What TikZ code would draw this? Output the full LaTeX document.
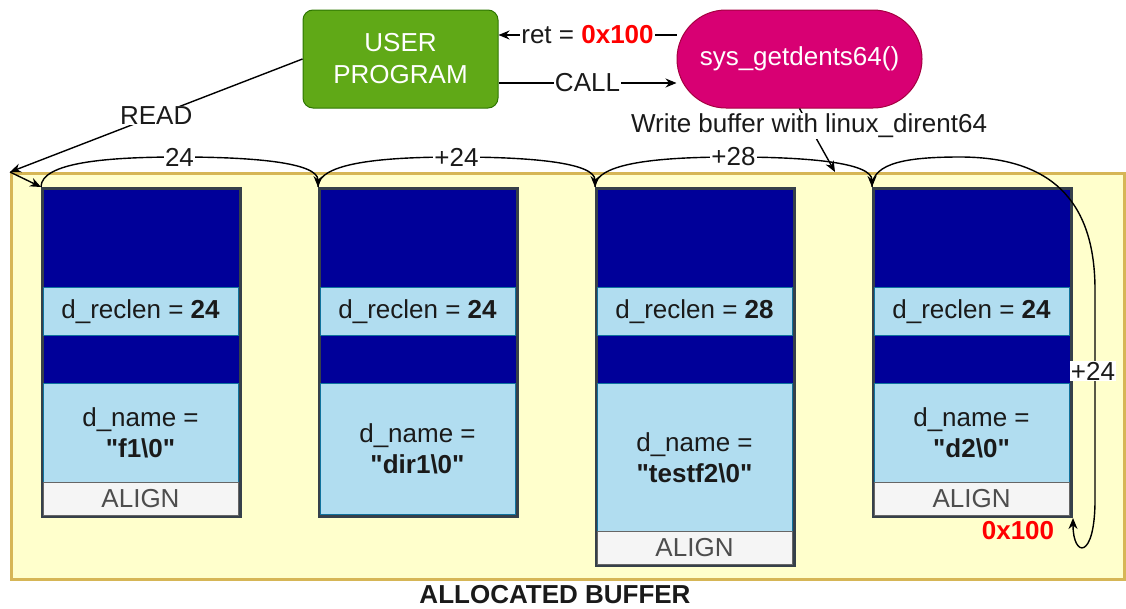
\documentclass[tikz,border=0pt]{standalone}
\usepackage{fontspec}
\setmainfont{Liberation Sans}[Ligatures=TeXOff]
\usetikzlibrary{arrows.meta,calc}
\definecolor{dkblue}{HTML}{000099}
\definecolor{slate}{HTML}{36404A}
\definecolor{lblue}{HTML}{B1DDF0}
\definecolor{lbluestroke}{HTML}{10739E}
\definecolor{alignfill}{HTML}{F5F5F5}
\definecolor{aligndraw}{HTML}{666666}
\definecolor{aligntext}{HTML}{4D4D4D}
\definecolor{bufyellow}{HTML}{FFFFCC}
\definecolor{bufdraw}{HTML}{D6B656}
\definecolor{ugreen}{HTML}{60A917}
\definecolor{ugreendraw}{HTML}{2D7600}
\definecolor{magent}{HTML}{D80073}
\definecolor{magentdraw}{HTML}{A50040}
\definecolor{txt}{HTML}{1A1A1A}
\definecolor{redtxt}{HTML}{FF0000}
\newcommand\dfont{\fontsize{26}{31}\selectfont}
\begin{document}
\begin{tikzpicture}[x=1pt,y=-1pt,
  every node/.style={font=\dfont, text=txt},
  recbox/.style={draw=slate, line width=3pt, fill=dkblue, anchor=north west, minimum width=198, inner sep=0},
  cell/.style={draw=lbluestroke, line width=1pt, fill=lblue, anchor=north west, minimum width=195, inner sep=0, align=center},
  aligncell/.style={draw=aligndraw, line width=1pt, fill=alignfill, anchor=north west, minimum width=195, minimum height=33, inner sep=0, text=aligntext},
  arr/.style={line width=1.4pt, draw=black, -{Stealth[length=11pt,width=9pt]}},
  lbl/.style={fill=white, inner sep=1pt},
]
\useasboundingbox (0,0) rectangle (1126,608);

% buffer
\node[draw=bufdraw, line width=3pt, fill=bufyellow, anchor=north west, minimum width=1113, minimum height=406, inner sep=0] (buf) at (10,172) {};
\node[font=\dfont\bfseries, inner sep=0pt] (buflbl) at (555,595) {ALLOCATED BUFFER};

% record 1
\node[recbox, minimum height=328] (r1) at (41,187) {};
\node[cell, minimum height=48] (r1len) at (42.5,287) {d\_reclen = \textbf{24}};
\node[cell, minimum height=99] (r1name) at (42.5,383) {d\_name =\\\textbf{"f1\textbackslash0"}};
\node[aligncell] (r1al) at (42.5,482) {ALIGN};

% record 2
\node[recbox, minimum height=328] (r2) at (318,187) {};
\node[cell, minimum height=48] (r2len) at (319.5,287) {d\_reclen = \textbf{24}};
\node[cell, minimum height=131] (r2name) at (319.5,383) {d\_name =\\\textbf{"dir1\textbackslash0"}};

% record 3
\node[recbox, minimum height=377] (r3) at (595,187) {};
\node[cell, minimum height=48] (r3len) at (596.5,287) {d\_reclen = \textbf{28}};
\node[cell, minimum height=148] (r3name) at (596.5,383) {d\_name =\\\textbf{"testf2\textbackslash0"}};
\node[aligncell] (r3al) at (596.5,531) {ALIGN};

% record 4
\node[recbox, minimum height=328] (r4) at (872,187) {};
\node[cell, minimum height=48] (r4len) at (873.5,287) {d\_reclen = \textbf{24}};
\node[cell, minimum height=99] (r4name) at (873.5,383) {d\_name =\\\textbf{"d2\textbackslash0"}};
\node[aligncell] (r4al) at (873.5,482) {ALIGN};

% top nodes
\node[draw=ugreendraw, fill=ugreen, line width=1pt, rounded corners=10pt, minimum width=195, minimum height=98, text=white, align=center] (user) at (400.5,59) {USER\\[1pt]PROGRAM};
\node[draw=magentdraw, fill=magent, line width=1pt, rounded corners=49pt, minimum width=245, minimum height=98, text=white] (sys) at (799.5,59) {sys\_getdents64()};

\coordinate (wb) at (835,172);

% connectors
\draw[arr] ($(sys.west)+(0,-24)$) -- node[lbl]{ret = \textcolor{redtxt}{\textbf{0x100}}} ($(user.east)+(0,-24)$);
\draw[arr] ($(user.east)+(0,24)$) -- node[lbl]{CALL} ($(sys.west)+(0,24)$);
\draw[arr] (user.west) -- node[lbl]{READ} (buf.north west);
\draw[arr] (buf.north west) -- (r1.north west);
\draw[arr] (sys.south) -- node[lbl, pos=0.27]{Write buffer with linux\_dirent64} (wb);

\draw[arr] (r1.north west) .. controls +(0,-25) and +(-70,0) .. (179.5,157) node[lbl]{24}
  .. controls +(70,0) and +(0,-25) .. (r2.north west);
\draw[arr] (r2.north west) .. controls +(0,-25) and +(-70,0) .. (456.5,157) node[lbl]{+24}
  .. controls +(70,0) and +(0,-25) .. (r3.north west);
\draw[arr] (r3.north west) .. controls +(0,-25) and +(-70,0) .. (733.5,157) node[lbl]{+28}
  .. controls +(70,0) and +(0,-25) .. (r4.north west);
\draw[arr] (r4.north west) .. controls +(0,-25) and +(-50,0) .. (960,157)
  .. controls +(100,0) and +(0,-80) .. (1095,290)
  -- (1095,371) node[lbl, xshift=-2pt]{+24}
  -- (1095,500) .. controls +(0,60) and +(0,40) .. (r4.south east);

\node[text=redtxt, font=\dfont\bfseries] (ret) at (1018,531) {0x100};
\end{tikzpicture}
\end{document}
